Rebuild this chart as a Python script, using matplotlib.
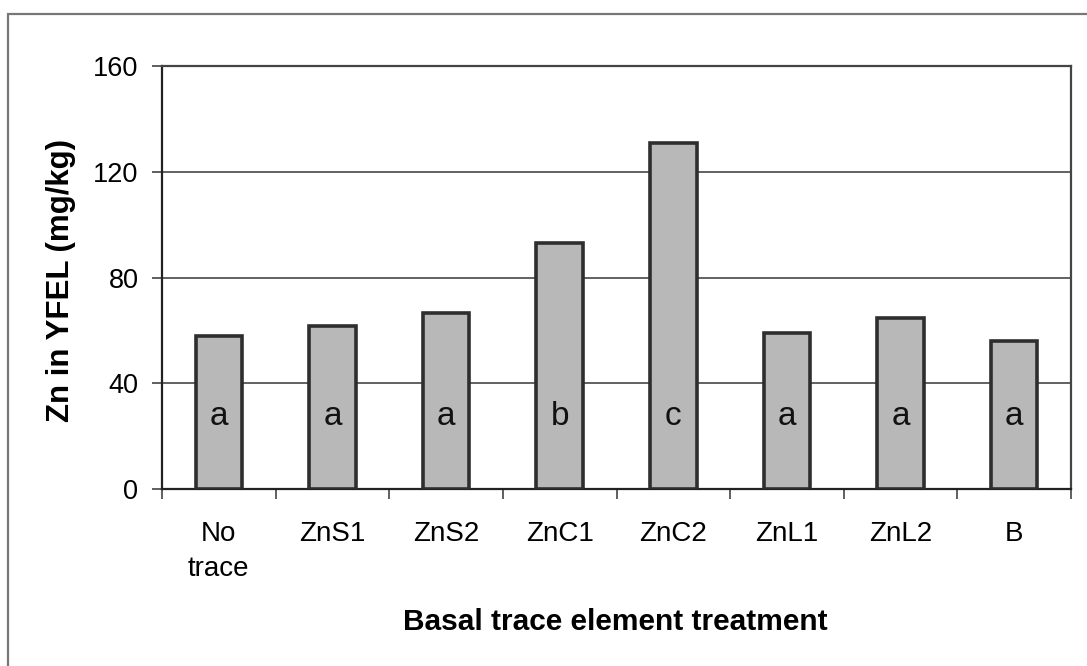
import numpy as np
import matplotlib.pyplot as plt
from matplotlib.patches import Rectangle

plt.rcParams['font.family'] = ['Liberation Sans', 'DejaVu Sans']

# Zn v YFEL po obravnavanju
kategorije = ["No\ntrace", "ZnS1", "ZnS2", "ZnC1", "ZnC2", "ZnL1", "ZnL2", "B"]
zn = [58, 61.5, 66.5, 93, 131, 59, 64.5, 56]
crke = ["a", "a", "a", "b", "c", "a", "a", "a"]
yticks = [0, 40, 80, 120, 160]

fig = plt.figure(figsize=(10.87, 6.66), dpi=100)
ax = fig.add_axes([162/1087, 1-489/666, (1071-162)/1087, (489-66)/666])

# zunanji okvir
fig.patches.append(Rectangle((8/1087, -0.1), 1.2, 1-14/666+0.1, transform=fig.transFigure,
                             fill=False, edgecolor="#777777", linewidth=1.6))

x = np.arange(len(kategorije))
ax.bar(x, zn, width=0.41, color="#b8b8b8", edgecolor="#2e2e2e", linewidth=2.6, zorder=3)
for xi, c in zip(x, crke):
    ax.text(xi, 27.5, c, ha="center", va="center", fontsize=24, color="#111111", zorder=4)

ax.set_xlim(-0.5, len(kategorije)-0.5)
ax.set_ylim(0, 160)
ax.set_yticks(yticks)
ax.yaxis.grid(True, color="#555555", linewidth=1.3, zorder=0)

ax.set_xticks(x)
ax.set_xticklabels(kategorije, fontsize=20, linespacing=1.45)
ax.set_xticks(np.arange(len(kategorije)+1) - 0.5, minor=True)
ax.tick_params(axis="x", which="major", length=0, pad=23)
ax.tick_params(axis="x", which="minor", length=7, width=1.2, color="#444444", direction="out")
ax.tick_params(axis="y", labelsize=19.5, length=7, width=1.2, color="#444444", pad=10)

for s in ax.spines.values():
    s.set_color("#444444")
    s.set_linewidth(1.6)
ax.spines["left"].set_color("#222222")
ax.spines["bottom"].set_color("#222222")

fig.text(61/1087, 1-281/666, "Zn in YFEL (mg/kg)", rotation=90, ha="center", va="center",
         fontsize=22.5, fontweight="bold")
fig.text(615/1087, 1-622/666, "Basal trace element treatment", ha="center", va="center",
         fontsize=21.5, fontweight="bold")

fig.savefig("out.png", dpi=100)
